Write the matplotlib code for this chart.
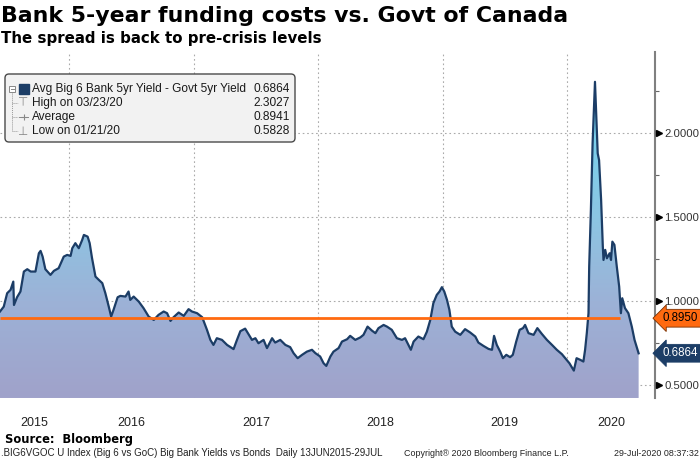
import numpy as np
import pandas as pd
import matplotlib
matplotlib.use("Agg")
import matplotlib.pyplot as plt
import matplotlib.dates as mdates
import matplotlib.transforms as mtransforms
from matplotlib.colors import LinearSegmentedColormap
from matplotlib.patches import FancyBboxPatch, Polygon

# Avg Big 6 bank 5yr yield minus GoC 5yr yield
dates = [
    "2015-06-13", "2015-06-24", "2015-07-04", "2015-07-14", "2015-07-22", "2015-07-24", "2015-08-02",
    "2015-08-12", "2015-08-22", "2015-09-01", "2015-09-11", "2015-09-25", "2015-10-05", "2015-10-10",
    "2015-10-16", "2015-10-24", "2015-11-08", "2015-11-18", "2015-12-02", "2015-12-17", "2015-12-27",
    "2016-01-06", "2016-01-11", "2016-01-20", "2016-01-30", "2016-02-09", "2016-02-14", "2016-02-25",
    "2016-03-02", "2016-03-09", "2016-03-19", "2016-03-29", "2016-04-08", "2016-04-17", "2016-04-27",
    "2016-05-04", "2016-05-11", "2016-05-23", "2016-05-31", "2016-06-15", "2016-06-24", "2016-06-29",
    "2016-07-09", "2016-07-24", "2016-08-07", "2016-08-22", "2016-09-06", "2016-09-20", "2016-10-05",
    "2016-10-15", "2016-10-25", "2016-11-03", "2016-11-18", "2016-12-03", "2016-12-17", "2016-12-27",
    "2017-01-11", "2017-01-26", "2017-02-09", "2017-02-19", "2017-02-28", "2017-03-10", "2017-03-25",
    "2017-04-09", "2017-04-28", "2017-05-08", "2017-05-18", "2017-06-01", "2017-06-11", "2017-06-21",
    "2017-07-01", "2017-07-10", "2017-07-25", "2017-08-04", "2017-08-19", "2017-08-28", "2017-09-12",
    "2017-09-27", "2017-10-11", "2017-10-21", "2017-11-02", "2017-11-15", "2017-11-29", "2017-12-14",
    "2017-12-24",
    "2018-01-07", "2018-01-17", "2018-01-25", "2018-02-06", "2018-02-15", "2018-03-02", "2018-03-12",
    "2018-03-27", "2018-04-05", "2018-04-20", "2018-05-05", "2018-05-14", "2018-05-26", "2018-06-08",
    "2018-06-18", "2018-06-27", "2018-07-12", "2018-07-22", "2018-08-05", "2018-08-20", "2018-09-04",
    "2018-09-13", "2018-09-23", "2018-09-30", "2018-10-08", "2018-10-22", "2018-11-06", "2018-11-16",
    "2018-11-26", "2018-12-05", "2018-12-15", "2018-12-23", "2018-12-30",
    "2019-01-06", "2019-01-14", "2019-01-21", "2019-01-28", "2019-02-07", "2019-02-22", "2019-03-08",
    "2019-03-23", "2019-04-07", "2019-04-16", "2019-05-01", "2019-05-16", "2019-05-26", "2019-06-01",
    "2019-06-09", "2019-06-19", "2019-06-27", "2019-07-07", "2019-07-18", "2019-07-26", "2019-08-05",
    "2019-08-15", "2019-08-25", "2019-08-31", "2019-09-10", "2019-09-25", "2019-10-06", "2019-10-19",
    "2019-11-03", "2019-11-18", "2019-12-02", "2019-12-17", "2019-12-29",
    "2020-01-08", "2020-01-21", "2020-01-29", "2020-02-09", "2020-02-18", "2020-02-23", "2020-02-28",
    "2020-03-04", "2020-03-06", "2020-03-11", "2020-03-16", "2020-03-23", "2020-03-25", "2020-03-31",
    "2020-04-04", "2020-04-10", "2020-04-15", "2020-04-17", "2020-04-22", "2020-04-27", "2020-05-05",
    "2020-05-09", "2020-05-13", "2020-05-19", "2020-05-26", "2020-06-02", "2020-06-07", "2020-06-11",
    "2020-06-19", "2020-06-29", "2020-07-09", "2020-07-17", "2020-07-29",
]
spread = [
    0.935, 0.964, 1.044, 1.064, 1.113, 0.974, 1.020,
    1.054, 1.173, 1.187, 1.173, 1.173, 1.282, 1.296,
    1.262, 1.187, 1.153, 1.177, 1.193, 1.262, 1.272,
    1.266, 1.312, 1.342, 1.312, 1.361, 1.391, 1.381,
    1.342, 1.252, 1.143, 1.123, 1.104, 1.044, 0.964,
    0.905, 0.945, 1.020, 1.028, 1.024, 1.054, 1.004,
    1.024, 0.994, 0.955, 0.905, 0.885, 0.915, 0.935,
    0.925, 0.879, 0.901, 0.929, 0.909, 0.949, 0.935,
    0.925, 0.901, 0.826, 0.766, 0.736, 0.776, 0.766,
    0.736, 0.711, 0.766, 0.818, 0.833, 0.800, 0.766,
    0.776, 0.746, 0.766, 0.717, 0.776, 0.750, 0.766,
    0.736, 0.723, 0.687, 0.657, 0.677, 0.696, 0.707,
    0.687,
    0.667, 0.627, 0.611, 0.667, 0.696, 0.717, 0.756,
    0.770, 0.790, 0.766, 0.781, 0.796, 0.845, 0.821,
    0.806, 0.836, 0.855, 0.845, 0.826, 0.776, 0.766,
    0.776, 0.736, 0.707, 0.756, 0.786, 0.770, 0.815,
    0.885, 0.985, 1.034, 1.054, 1.080,
    1.054, 1.004, 0.945, 0.845, 0.815, 0.796, 0.830,
    0.810, 0.786, 0.750, 0.730, 0.712, 0.707, 0.790,
    0.736, 0.696, 0.657, 0.677, 0.663, 0.677, 0.756,
    0.826, 0.836, 0.855, 0.806, 0.796, 0.836, 0.802,
    0.766, 0.736, 0.707, 0.681, 0.651,
    0.627, 0.583, 0.657, 0.647, 0.637, 0.707, 0.806,
    0.925, 1.202, 1.540, 1.937, 2.303, 2.195, 1.877,
    1.837, 1.599, 1.321, 1.242, 1.302, 1.252, 1.282,
    1.242, 1.351, 1.332, 1.202, 1.083, 0.925, 1.014,
    0.955, 0.925, 0.845, 0.766, 0.686,
]

avg_line_value = 0.8950
avg_line_end = "2020-06-05"
last_value = 0.6864
legend_labels = ["Avg Big 6 Bank 5yr Yield - Govt 5yr Yield", "High on 03/23/20", "Average", "Low on 01/21/20"]
legend_values = [0.6864, 2.3027, 0.8941, 0.5828]
y_major = [0.5, 1.0, 1.5, 2.0]
y_minor = [0.75, 1.25, 1.75, 2.25]
years = [2015, 2016, 2017, 2018, 2019, 2020]

title = "Bank 5-year funding costs vs. Govt of Canada"
subtitle = "The spread is back to pre-crisis levels"
footer_left = ".BIG6VGOC U Index (Big 6 vs GoC) Big Bank Yields vs Bonds  Daily 13JUN2015-29JUL"
footer_mid = "Copyright\u00ae 2020 Bloomberg Finance L.P."
footer_right = "29-Jul-2020 08:37:32"

NAVY = "#1c3d66"
ORANGE = "#ff6a10"

fig = plt.figure(figsize=(7, 4.61), dpi=100)
ax = fig.add_axes([0, 0.1367, 0.9357, 0.7503])

x = mdates.date2num(pd.to_datetime(dates))
xmin = mdates.date2num(pd.Timestamp("2015-06-13"))
xmax = mdates.date2num(pd.Timestamp("2020-09-15"))
ymin, ymax = 0.42, 2.48

# vertical gradient fill under the line
cmap = LinearSegmentedColormap.from_list(
    "fill", [(0.0, "#a0a2ca"), (0.28, "#9cb2d7"), (0.52, "#8cc5e3"), (0.78, "#78d0ec"), (1.0, "#66d8f2")])
grad = np.linspace(0, 1, 256).reshape(-1, 1)
im = ax.imshow(grad, extent=[xmin, xmax, ymin, ymax], origin="lower", aspect="auto",
               cmap=cmap, zorder=1, interpolation="bilinear")
poly = Polygon(np.column_stack([np.r_[x[0], x, x[-1]], np.r_[ymin, spread, ymin]]),
               closed=True, facecolor="none", edgecolor="none")
ax.add_patch(poly)
im.set_clip_path(poly)

ax.plot(x, spread, color=NAVY, lw=1.6, zorder=3, solid_joinstyle="round")
ax.plot([xmin, mdates.date2num(pd.Timestamp(avg_line_end))], [avg_line_value] * 2,
        color=ORANGE, lw=2, zorder=4, solid_capstyle="butt")

ax.set_xlim(xmin, xmax)
ax.set_ylim(ymin, ymax)

# year gridlines at Jan 1, labels centred on the visible part of each year
year_starts = [mdates.date2num(pd.Timestamp(f"{y}-01-01")) for y in years[1:]]
edges = [xmin] + year_starts + [xmax]
centers = [(a + b) / 2 for a, b in zip(edges[:-1], edges[1:])]
ax.set_xticks(year_starts)
ax.set_xticklabels([])
ax.set_xticks(centers, minor=True)
ax.set_xticklabels([str(y) for y in years], minor=True)
ax.tick_params(axis="x", which="both", length=0)
ax.tick_params(axis="x", which="minor", pad=14, labelsize=9, labelcolor="#222222")
for lab in ax.get_xticklabels(minor=True):
    lab.set_family("Liberation Sans")

ax.yaxis.tick_right()
ax.set_yticks(y_major)
ax.set_yticklabels([f"{v:.4f}" for v in y_major])
ax.set_yticks(y_minor, minor=True)
ax.tick_params(axis="y", which="major", length=0, pad=6.5, labelsize=8.2, labelcolor="#333333")
ax.tick_params(axis="y", which="minor", length=3, width=0.8, direction="out", color="#666666")
for lab in ax.get_yticklabels():
    lab.set_family("Liberation Sans")

trans = mtransforms.blended_transform_factory(ax.transAxes, ax.transData)
marker_trans = mtransforms.offset_copy(trans, fig=fig, x=4, y=0, units="dots")
ax.plot([1.0] * len(y_major), y_major, linestyle="none", marker=">", ms=4.5, color="black",
        transform=marker_trans, clip_on=False, zorder=6)

ax.grid(True, which="major", color="#aaaaaa", linestyle=(0, (1.5, 2.5)), lw=0.8)
ax.set_axisbelow(True)
for side in ["left", "top", "bottom"]:
    ax.spines[side].set_visible(False)
ax.spines["right"].set_color("#808080")
ax.spines["right"].set_linewidth(1.5)

# value tags on the right axis
tag_style = dict(xycoords=trans, xytext=(5.5, 0), textcoords="offset points", ha="left", va="center",
                 fontsize=8.3, family="Liberation Sans", annotation_clip=False, zorder=7)
ax.annotate(f"{avg_line_value:.4f}", xy=(1.0, avg_line_value), color="black",
            bbox=dict(boxstyle="larrow,pad=0.25", fc=ORANGE, ec="#7a3000", lw=0.6), **tag_style)
ax.annotate(f"{last_value:.4f}", xy=(1.0, last_value), color="white",
            bbox=dict(boxstyle="larrow,pad=0.25", fc=NAVY, ec=NAVY, lw=0.6), **tag_style)

# overlay in pixel coordinates for titles, legend box and footer
ov = fig.add_axes([0, 0, 1, 1], zorder=10)
ov.set_xlim(0, 700)
ov.set_ylim(461, 0)
ov.axis("off")
ov.patch.set_alpha(0)

ov.text(1, 16, title, fontsize=15.8, fontweight="bold", va="center", ha="left", color="black")
ov.text(1, 39, subtitle, fontsize=10.8, fontweight="bold", va="center", ha="left", color="black")

box = FancyBboxPatch((5, 74), 290, 68, boxstyle="round,pad=0,rounding_size=4",
                     fc="#f2f2f2", ec="#4a4a4a", lw=1)
ov.add_patch(box)
row_y = [89, 103, 117, 131]
for yy, lab, val in zip(row_y, legend_labels, legend_values):
    ov.text(32, yy, lab, fontsize=8.6, family="Liberation Sans", va="center", ha="left", color="#1a1a1a")
    ov.text(290, yy, f"{val:.4f}", fontsize=8.6, family="Liberation Sans", va="center", ha="right",
            color="#1a1a1a")
# tree lines and symbols
ov.plot([12, 12], [92, 131], color="#999999", lw=0.7, ls=(0, (1, 1)))
for yy in row_y[1:]:
    ov.plot([12, 18], [yy, yy], color="#999999", lw=0.7, ls=(0, (1, 1)))
ov.plot([12], [89], marker="s", ms=5, mfc="white", mec="#888888", mew=0.7)
ov.plot([10.5, 13.5], [89, 89], color="#888888", lw=0.7)
ov.plot([23.5], [89], marker="s", ms=7.5, color=NAVY)
ov.text(23.5, 103, "\u22a4", fontsize=8.5, color="#888888", ha="center", va="center")
ov.plot([19, 28], [117, 117], color="#888888", lw=0.7)
ov.plot([23.5], [117], marker="+", ms=4, color="#888888", mew=0.8)
ov.text(23.5, 131, "\u22a5", fontsize=8.5, color="#888888", ha="center", va="center")

ov.text(5, 439, "Source:  Bloomberg", fontsize=8.3, fontweight="bold", va="center", ha="left")
ov.text(1, 453, footer_left, fontsize=7.0, family="Liberation Sans", va="center", ha="left", color="#222222")
ov.text(404, 453, footer_mid, fontsize=6.4, family="Liberation Sans", va="center", ha="left", color="#222222")
ov.text(699, 453, footer_right, fontsize=6.4, family="Liberation Sans", va="center", ha="right", color="#222222")

fig.savefig("out.png", dpi=100)
